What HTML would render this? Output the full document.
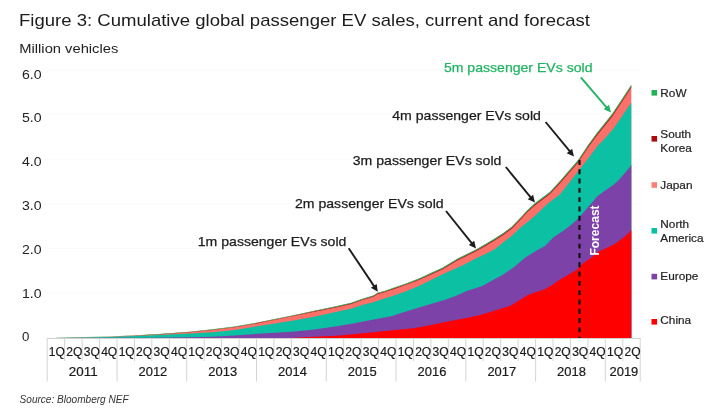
<!DOCTYPE html><html><head><meta charset="utf-8"><title>Figure 3</title><style>html,body{margin:0;padding:0;background:#fff}body{width:720px;height:414px;overflow:hidden}</style></head><body><svg width="720" height="414" viewBox="0 0 720 414" style="display:block">
<rect width="720" height="414" fill="#fff"/>
<line x1="47" x2="640" y1="293.2" y2="293.2" stroke="#fafafa" stroke-width="1"/>
<line x1="47" x2="640" y1="248.5" y2="248.5" stroke="#fafafa" stroke-width="1"/>
<line x1="47" x2="640" y1="203.8" y2="203.8" stroke="#fafafa" stroke-width="1"/>
<line x1="47" x2="640" y1="159.0" y2="159.0" stroke="#fafafa" stroke-width="1"/>
<line x1="47" x2="640" y1="114.2" y2="114.2" stroke="#fafafa" stroke-width="1"/>
<line x1="47" x2="640" y1="69.5" y2="69.5" stroke="#fafafa" stroke-width="1"/>
<path d="M55.9,338.0 L55.9,338.0 L106.7,336.7 L132.2,335.6 L154.4,334.5 L190.0,331.8 L212.2,329.5 L234.4,326.7 L256.7,322.8 L270.0,320.1 L292.2,315.6 L314.4,310.8 L336.7,306.2 L351.1,302.9 L362.2,298.9 L373.3,295.6 L377.8,292.8 L384.4,291.1 L395.6,287.2 L406.7,283.3 L420.0,278.2 L431.1,273.0 L442.2,268.0 L457.8,258.6 L475.6,249.8 L486.7,243.5 L495.0,238.5 L503.3,233.1 L511.7,226.8 L522.5,215.6 L526.7,210.9 L534.4,203.7 L550.0,192.0 L560.0,181.1 L578.3,160.0 L587.5,146.0 L596.7,133.3 L612.2,113.9 L621.5,100.0 L631.3,85.0 L631.3,338.0 Z" fill="#fb7068"/>
<path d="M55.9,338.0 L55.9,338.0 L110.0,337.0 L154.4,335.2 L190.0,333.5 L212.2,332.2 L234.4,330.0 L270.0,324.2 L292.2,320.7 L314.4,316.8 L336.7,311.8 L351.1,308.7 L362.2,305.0 L373.3,302.3 L384.4,298.4 L395.6,294.9 L406.7,291.0 L420.0,285.5 L431.1,280.1 L442.2,274.6 L453.3,269.6 L464.4,264.6 L475.6,258.4 L486.7,253.5 L495.0,249.0 L503.3,242.3 L511.7,236.0 L520.0,228.0 L530.0,219.9 L535.6,215.2 L546.7,204.4 L560.0,194.2 L578.3,171.0 L587.0,160.0 L597.5,146.0 L604.4,138.9 L613.3,128.8 L621.7,116.7 L631.3,102.5 L631.3,338.0 Z" fill="#0cc0a4"/>
<path d="M55.9,338.0 L55.9,338.0 L150.0,337.8 L190.0,337.2 L212.2,336.7 L234.4,335.6 L270.0,332.9 L292.2,331.8 L314.4,329.6 L336.7,326.2 L350.0,324.0 L392.2,316.0 L400.0,313.3 L411.1,310.1 L422.2,306.6 L433.3,303.3 L444.4,300.0 L455.6,296.1 L466.7,291.1 L482.2,286.0 L492.2,280.6 L503.3,274.4 L514.4,266.7 L525.6,257.2 L536.7,250.6 L545.0,246.0 L553.3,237.5 L564.4,230.0 L572.2,224.0 L578.9,217.8 L594.0,200.3 L596.7,196.7 L604.4,191.1 L613.3,185.0 L617.8,181.1 L626.7,171.1 L631.3,165.0 L631.3,338.0 Z" fill="#7d42a8"/>
<path d="M55.9,338.0 L55.9,338.0 L290.0,338.0 L314.4,336.8 L336.7,335.7 L350.0,334.6 L363.3,333.3 L400.0,329.6 L411.1,328.4 L422.2,326.8 L433.3,324.6 L444.4,322.3 L455.6,320.1 L466.7,317.9 L480.0,315.1 L491.1,311.7 L502.2,308.3 L511.1,305.6 L518.9,300.6 L527.8,295.0 L535.6,292.2 L544.4,289.4 L552.2,285.0 L560.0,279.4 L576.7,270.0 L582.2,264.0 L593.3,256.2 L598.3,251.8 L604.4,249.0 L615.6,243.4 L626.7,235.1 L631.3,230.1 L631.3,338.0 Z" fill="#ff0000"/>
<path d="M55.90,338.05 L106.70,336.77 L132.20,335.70 L154.40,334.62 L190.00,331.97 L212.20,329.70 L234.40,326.94 L256.70,323.08 L270.00,320.40 L292.20,315.94 L314.40,311.18 L336.70,306.63 L351.10,303.36 L362.20,299.38 L373.30,296.11 L377.80,293.32 L384.40,291.63 L395.60,287.76 L406.70,283.88 L420.00,278.81 L431.10,273.64 L442.20,268.66 L457.80,259.30 L475.60,250.55 L486.70,244.27 L495.00,239.30 L503.30,233.92 L511.70,227.64 L522.50,216.47 L526.70,211.78 L534.40,204.60 L550.00,192.94 L560.00,182.07 L578.30,161.02 L587.50,147.04 L596.70,134.37 L612.20,115.02 L621.50,101.14 L631.30,86.17 L631.30,87.60 L621.50,102.54 L612.20,116.38 L596.70,135.68 L587.50,148.32 L578.30,162.26 L560.00,183.25 L550.00,194.09 L534.40,205.70 L526.70,212.85 L522.50,217.53 L511.70,228.66 L503.30,234.92 L495.00,240.27 L486.70,245.22 L475.60,251.46 L457.80,260.16 L442.20,269.48 L431.10,274.42 L420.00,279.56 L406.70,284.59 L395.60,288.43 L384.40,292.28 L377.80,293.95 L373.30,296.72 L362.20,299.97 L351.10,303.92 L336.70,307.15 L314.40,311.65 L292.20,316.36 L270.00,320.77 L256.70,323.42 L234.40,327.23 L212.20,329.95 L190.00,332.18 L154.40,334.78 L132.20,335.82 L106.70,336.87 L55.90,338.10 Z" fill="#9a1010"/>
<path d="M55.90,337.85 L106.70,336.55 L132.20,335.45 L154.40,334.35 L190.00,331.65 L212.20,329.35 L234.40,326.55 L256.70,322.65 L270.00,319.95 L292.20,315.45 L314.40,310.65 L336.70,306.05 L351.10,302.75 L362.20,298.75 L373.30,295.45 L377.80,292.65 L384.40,290.95 L395.60,287.05 L406.70,283.15 L420.00,278.05 L431.10,272.85 L442.20,267.85 L457.80,258.45 L475.60,249.65 L486.70,243.35 L495.00,238.35 L503.30,232.95 L511.70,226.65 L522.50,215.45 L526.70,210.75 L534.40,203.55 L550.00,191.85 L560.00,180.95 L578.30,159.85 L587.50,145.85 L596.70,133.15 L612.20,113.75 L621.50,99.85 L631.30,84.85 L631.30,86.30 L621.50,101.27 L612.20,115.14 L596.70,134.49 L587.50,147.16 L578.30,161.13 L560.00,182.18 L550.00,193.05 L534.40,204.70 L526.70,211.88 L522.50,216.56 L511.70,227.73 L503.30,234.01 L495.00,239.38 L486.70,244.36 L475.60,250.63 L457.80,259.38 L442.20,268.74 L431.10,273.71 L420.00,278.88 L406.70,283.95 L395.60,287.82 L384.40,291.69 L377.80,293.37 L373.30,296.16 L362.20,299.44 L351.10,303.41 L336.70,306.68 L314.40,311.23 L292.20,315.98 L270.00,320.43 L256.70,323.11 L234.40,326.97 L212.20,329.73 L190.00,331.99 L154.40,334.64 L132.20,335.71 L106.70,336.78 L55.90,338.05 Z" fill="#27b45f"/>
<line x1="47" x2="640.5" y1="338.5" y2="338.5" stroke="#d0d0d0" stroke-width="1"/>
<line x1="47.2" x2="47.2" y1="338.0" y2="381.5" stroke="#d4d4d4" stroke-width="1"/>
<line x1="64.6" x2="64.6" y1="338.0" y2="361" stroke="#d4d4d4" stroke-width="1"/>
<line x1="82.1" x2="82.1" y1="338.0" y2="361" stroke="#d4d4d4" stroke-width="1"/>
<line x1="99.5" x2="99.5" y1="338.0" y2="361" stroke="#d4d4d4" stroke-width="1"/>
<line x1="117.0" x2="117.0" y1="338.0" y2="381.5" stroke="#d4d4d4" stroke-width="1"/>
<line x1="134.4" x2="134.4" y1="338.0" y2="361" stroke="#d4d4d4" stroke-width="1"/>
<line x1="151.8" x2="151.8" y1="338.0" y2="361" stroke="#d4d4d4" stroke-width="1"/>
<line x1="169.3" x2="169.3" y1="338.0" y2="361" stroke="#d4d4d4" stroke-width="1"/>
<line x1="186.7" x2="186.7" y1="338.0" y2="381.5" stroke="#d4d4d4" stroke-width="1"/>
<line x1="204.2" x2="204.2" y1="338.0" y2="361" stroke="#d4d4d4" stroke-width="1"/>
<line x1="221.6" x2="221.6" y1="338.0" y2="361" stroke="#d4d4d4" stroke-width="1"/>
<line x1="239.1" x2="239.1" y1="338.0" y2="361" stroke="#d4d4d4" stroke-width="1"/>
<line x1="256.5" x2="256.5" y1="338.0" y2="381.5" stroke="#d4d4d4" stroke-width="1"/>
<line x1="273.9" x2="273.9" y1="338.0" y2="361" stroke="#d4d4d4" stroke-width="1"/>
<line x1="291.4" x2="291.4" y1="338.0" y2="361" stroke="#d4d4d4" stroke-width="1"/>
<line x1="308.8" x2="308.8" y1="338.0" y2="361" stroke="#d4d4d4" stroke-width="1"/>
<line x1="326.3" x2="326.3" y1="338.0" y2="381.5" stroke="#d4d4d4" stroke-width="1"/>
<line x1="343.7" x2="343.7" y1="338.0" y2="361" stroke="#d4d4d4" stroke-width="1"/>
<line x1="361.1" x2="361.1" y1="338.0" y2="361" stroke="#d4d4d4" stroke-width="1"/>
<line x1="378.6" x2="378.6" y1="338.0" y2="361" stroke="#d4d4d4" stroke-width="1"/>
<line x1="396.0" x2="396.0" y1="338.0" y2="381.5" stroke="#d4d4d4" stroke-width="1"/>
<line x1="413.5" x2="413.5" y1="338.0" y2="361" stroke="#d4d4d4" stroke-width="1"/>
<line x1="430.9" x2="430.9" y1="338.0" y2="361" stroke="#d4d4d4" stroke-width="1"/>
<line x1="448.3" x2="448.3" y1="338.0" y2="361" stroke="#d4d4d4" stroke-width="1"/>
<line x1="465.8" x2="465.8" y1="338.0" y2="381.5" stroke="#d4d4d4" stroke-width="1"/>
<line x1="483.2" x2="483.2" y1="338.0" y2="361" stroke="#d4d4d4" stroke-width="1"/>
<line x1="500.7" x2="500.7" y1="338.0" y2="361" stroke="#d4d4d4" stroke-width="1"/>
<line x1="518.1" x2="518.1" y1="338.0" y2="361" stroke="#d4d4d4" stroke-width="1"/>
<line x1="535.6" x2="535.6" y1="338.0" y2="381.5" stroke="#d4d4d4" stroke-width="1"/>
<line x1="553.0" x2="553.0" y1="338.0" y2="361" stroke="#d4d4d4" stroke-width="1"/>
<line x1="570.4" x2="570.4" y1="338.0" y2="361" stroke="#d4d4d4" stroke-width="1"/>
<line x1="587.9" x2="587.9" y1="338.0" y2="361" stroke="#d4d4d4" stroke-width="1"/>
<line x1="605.3" x2="605.3" y1="338.0" y2="381.5" stroke="#d4d4d4" stroke-width="1"/>
<line x1="622.8" x2="622.8" y1="338.0" y2="361" stroke="#d4d4d4" stroke-width="1"/>
<line x1="640.2" x2="640.2" y1="338.0" y2="381.5" stroke="#d4d4d4" stroke-width="1"/>
<line x1="579.5" x2="579.5" y1="160" y2="338.0" stroke="#111" stroke-width="2.2" stroke-dasharray="4.9,4.4"/>
<text x="19" y="26.4" font-family="Liberation Sans, Arial, sans-serif" font-size="17" fill="#1c1c1c" textLength="571" lengthAdjust="spacingAndGlyphs">Figure 3: Cumulative global passenger EV sales, current and forecast</text>
<text x="19.3" y="53.2" font-family="Liberation Sans, Arial, sans-serif" font-size="13.3" fill="#222" textLength="99" lengthAdjust="spacingAndGlyphs">Million vehicles</text>
<text x="22" y="78.7" font-family="Liberation Sans, Arial, sans-serif" font-size="12" fill="#222" textLength="19.6" lengthAdjust="spacingAndGlyphs">6.0</text>
<text x="22" y="122.4" font-family="Liberation Sans, Arial, sans-serif" font-size="12" fill="#222" textLength="19.6" lengthAdjust="spacingAndGlyphs">5.0</text>
<text x="22" y="166.1" font-family="Liberation Sans, Arial, sans-serif" font-size="12" fill="#222" textLength="19.6" lengthAdjust="spacingAndGlyphs">4.0</text>
<text x="22" y="209.8" font-family="Liberation Sans, Arial, sans-serif" font-size="12" fill="#222" textLength="19.6" lengthAdjust="spacingAndGlyphs">3.0</text>
<text x="22" y="253.6" font-family="Liberation Sans, Arial, sans-serif" font-size="12" fill="#222" textLength="19.6" lengthAdjust="spacingAndGlyphs">2.0</text>
<text x="22" y="297.6" font-family="Liberation Sans, Arial, sans-serif" font-size="12" fill="#222" textLength="19.6" lengthAdjust="spacingAndGlyphs">1.0</text>
<text x="22" y="340.8" font-family="Liberation Sans, Arial, sans-serif" font-size="12" fill="#222" textLength="7.4" lengthAdjust="spacingAndGlyphs">0</text>
<text x="56.9" y="356.2" font-family="Liberation Sans, Arial, sans-serif" font-size="12" fill="#1a1a1a" stroke="#1a1a1a" stroke-width="0.2" text-anchor="middle" textLength="16.1" lengthAdjust="spacingAndGlyphs">1Q</text>
<text x="74.4" y="356.2" font-family="Liberation Sans, Arial, sans-serif" font-size="12" fill="#1a1a1a" stroke="#1a1a1a" stroke-width="0.2" text-anchor="middle" textLength="16.1" lengthAdjust="spacingAndGlyphs">2Q</text>
<text x="91.8" y="356.2" font-family="Liberation Sans, Arial, sans-serif" font-size="12" fill="#1a1a1a" stroke="#1a1a1a" stroke-width="0.2" text-anchor="middle" textLength="16.1" lengthAdjust="spacingAndGlyphs">3Q</text>
<text x="109.2" y="356.2" font-family="Liberation Sans, Arial, sans-serif" font-size="12" fill="#1a1a1a" stroke="#1a1a1a" stroke-width="0.2" text-anchor="middle" textLength="16.1" lengthAdjust="spacingAndGlyphs">4Q</text>
<text x="126.7" y="356.2" font-family="Liberation Sans, Arial, sans-serif" font-size="12" fill="#1a1a1a" stroke="#1a1a1a" stroke-width="0.2" text-anchor="middle" textLength="16.1" lengthAdjust="spacingAndGlyphs">1Q</text>
<text x="144.1" y="356.2" font-family="Liberation Sans, Arial, sans-serif" font-size="12" fill="#1a1a1a" stroke="#1a1a1a" stroke-width="0.2" text-anchor="middle" textLength="16.1" lengthAdjust="spacingAndGlyphs">2Q</text>
<text x="161.6" y="356.2" font-family="Liberation Sans, Arial, sans-serif" font-size="12" fill="#1a1a1a" stroke="#1a1a1a" stroke-width="0.2" text-anchor="middle" textLength="16.1" lengthAdjust="spacingAndGlyphs">3Q</text>
<text x="179.0" y="356.2" font-family="Liberation Sans, Arial, sans-serif" font-size="12" fill="#1a1a1a" stroke="#1a1a1a" stroke-width="0.2" text-anchor="middle" textLength="16.1" lengthAdjust="spacingAndGlyphs">4Q</text>
<text x="196.4" y="356.2" font-family="Liberation Sans, Arial, sans-serif" font-size="12" fill="#1a1a1a" stroke="#1a1a1a" stroke-width="0.2" text-anchor="middle" textLength="16.1" lengthAdjust="spacingAndGlyphs">1Q</text>
<text x="213.9" y="356.2" font-family="Liberation Sans, Arial, sans-serif" font-size="12" fill="#1a1a1a" stroke="#1a1a1a" stroke-width="0.2" text-anchor="middle" textLength="16.1" lengthAdjust="spacingAndGlyphs">2Q</text>
<text x="231.3" y="356.2" font-family="Liberation Sans, Arial, sans-serif" font-size="12" fill="#1a1a1a" stroke="#1a1a1a" stroke-width="0.2" text-anchor="middle" textLength="16.1" lengthAdjust="spacingAndGlyphs">3Q</text>
<text x="248.8" y="356.2" font-family="Liberation Sans, Arial, sans-serif" font-size="12" fill="#1a1a1a" stroke="#1a1a1a" stroke-width="0.2" text-anchor="middle" textLength="16.1" lengthAdjust="spacingAndGlyphs">4Q</text>
<text x="266.2" y="356.2" font-family="Liberation Sans, Arial, sans-serif" font-size="12" fill="#1a1a1a" stroke="#1a1a1a" stroke-width="0.2" text-anchor="middle" textLength="16.1" lengthAdjust="spacingAndGlyphs">1Q</text>
<text x="283.7" y="356.2" font-family="Liberation Sans, Arial, sans-serif" font-size="12" fill="#1a1a1a" stroke="#1a1a1a" stroke-width="0.2" text-anchor="middle" textLength="16.1" lengthAdjust="spacingAndGlyphs">2Q</text>
<text x="301.1" y="356.2" font-family="Liberation Sans, Arial, sans-serif" font-size="12" fill="#1a1a1a" stroke="#1a1a1a" stroke-width="0.2" text-anchor="middle" textLength="16.1" lengthAdjust="spacingAndGlyphs">3Q</text>
<text x="318.5" y="356.2" font-family="Liberation Sans, Arial, sans-serif" font-size="12" fill="#1a1a1a" stroke="#1a1a1a" stroke-width="0.2" text-anchor="middle" textLength="16.1" lengthAdjust="spacingAndGlyphs">4Q</text>
<text x="336.0" y="356.2" font-family="Liberation Sans, Arial, sans-serif" font-size="12" fill="#1a1a1a" stroke="#1a1a1a" stroke-width="0.2" text-anchor="middle" textLength="16.1" lengthAdjust="spacingAndGlyphs">1Q</text>
<text x="353.4" y="356.2" font-family="Liberation Sans, Arial, sans-serif" font-size="12" fill="#1a1a1a" stroke="#1a1a1a" stroke-width="0.2" text-anchor="middle" textLength="16.1" lengthAdjust="spacingAndGlyphs">2Q</text>
<text x="370.9" y="356.2" font-family="Liberation Sans, Arial, sans-serif" font-size="12" fill="#1a1a1a" stroke="#1a1a1a" stroke-width="0.2" text-anchor="middle" textLength="16.1" lengthAdjust="spacingAndGlyphs">3Q</text>
<text x="388.3" y="356.2" font-family="Liberation Sans, Arial, sans-serif" font-size="12" fill="#1a1a1a" stroke="#1a1a1a" stroke-width="0.2" text-anchor="middle" textLength="16.1" lengthAdjust="spacingAndGlyphs">4Q</text>
<text x="405.7" y="356.2" font-family="Liberation Sans, Arial, sans-serif" font-size="12" fill="#1a1a1a" stroke="#1a1a1a" stroke-width="0.2" text-anchor="middle" textLength="16.1" lengthAdjust="spacingAndGlyphs">1Q</text>
<text x="423.2" y="356.2" font-family="Liberation Sans, Arial, sans-serif" font-size="12" fill="#1a1a1a" stroke="#1a1a1a" stroke-width="0.2" text-anchor="middle" textLength="16.1" lengthAdjust="spacingAndGlyphs">2Q</text>
<text x="440.6" y="356.2" font-family="Liberation Sans, Arial, sans-serif" font-size="12" fill="#1a1a1a" stroke="#1a1a1a" stroke-width="0.2" text-anchor="middle" textLength="16.1" lengthAdjust="spacingAndGlyphs">3Q</text>
<text x="458.1" y="356.2" font-family="Liberation Sans, Arial, sans-serif" font-size="12" fill="#1a1a1a" stroke="#1a1a1a" stroke-width="0.2" text-anchor="middle" textLength="16.1" lengthAdjust="spacingAndGlyphs">4Q</text>
<text x="475.5" y="356.2" font-family="Liberation Sans, Arial, sans-serif" font-size="12" fill="#1a1a1a" stroke="#1a1a1a" stroke-width="0.2" text-anchor="middle" textLength="16.1" lengthAdjust="spacingAndGlyphs">1Q</text>
<text x="492.9" y="356.2" font-family="Liberation Sans, Arial, sans-serif" font-size="12" fill="#1a1a1a" stroke="#1a1a1a" stroke-width="0.2" text-anchor="middle" textLength="16.1" lengthAdjust="spacingAndGlyphs">2Q</text>
<text x="510.4" y="356.2" font-family="Liberation Sans, Arial, sans-serif" font-size="12" fill="#1a1a1a" stroke="#1a1a1a" stroke-width="0.2" text-anchor="middle" textLength="16.1" lengthAdjust="spacingAndGlyphs">3Q</text>
<text x="527.8" y="356.2" font-family="Liberation Sans, Arial, sans-serif" font-size="12" fill="#1a1a1a" stroke="#1a1a1a" stroke-width="0.2" text-anchor="middle" textLength="16.1" lengthAdjust="spacingAndGlyphs">4Q</text>
<text x="545.3" y="356.2" font-family="Liberation Sans, Arial, sans-serif" font-size="12" fill="#1a1a1a" stroke="#1a1a1a" stroke-width="0.2" text-anchor="middle" textLength="16.1" lengthAdjust="spacingAndGlyphs">1Q</text>
<text x="562.7" y="356.2" font-family="Liberation Sans, Arial, sans-serif" font-size="12" fill="#1a1a1a" stroke="#1a1a1a" stroke-width="0.2" text-anchor="middle" textLength="16.1" lengthAdjust="spacingAndGlyphs">2Q</text>
<text x="580.2" y="356.2" font-family="Liberation Sans, Arial, sans-serif" font-size="12" fill="#1a1a1a" stroke="#1a1a1a" stroke-width="0.2" text-anchor="middle" textLength="16.1" lengthAdjust="spacingAndGlyphs">3Q</text>
<text x="597.6" y="356.2" font-family="Liberation Sans, Arial, sans-serif" font-size="12" fill="#1a1a1a" stroke="#1a1a1a" stroke-width="0.2" text-anchor="middle" textLength="16.1" lengthAdjust="spacingAndGlyphs">4Q</text>
<text x="615.0" y="356.2" font-family="Liberation Sans, Arial, sans-serif" font-size="12" fill="#1a1a1a" stroke="#1a1a1a" stroke-width="0.2" text-anchor="middle" textLength="16.1" lengthAdjust="spacingAndGlyphs">1Q</text>
<text x="632.5" y="356.2" font-family="Liberation Sans, Arial, sans-serif" font-size="12" fill="#1a1a1a" stroke="#1a1a1a" stroke-width="0.2" text-anchor="middle" textLength="16.1" lengthAdjust="spacingAndGlyphs">2Q</text>
<text x="83.2" y="375.8" font-family="Liberation Sans, Arial, sans-serif" font-size="12.4" fill="#1a1a1a" stroke="#1a1a1a" stroke-width="0.2" text-anchor="middle" textLength="28.8" lengthAdjust="spacingAndGlyphs">2011</text>
<text x="152.9" y="375.8" font-family="Liberation Sans, Arial, sans-serif" font-size="12.4" fill="#1a1a1a" stroke="#1a1a1a" stroke-width="0.2" text-anchor="middle" textLength="28.8" lengthAdjust="spacingAndGlyphs">2012</text>
<text x="222.7" y="375.8" font-family="Liberation Sans, Arial, sans-serif" font-size="12.4" fill="#1a1a1a" stroke="#1a1a1a" stroke-width="0.2" text-anchor="middle" textLength="28.8" lengthAdjust="spacingAndGlyphs">2013</text>
<text x="292.5" y="375.8" font-family="Liberation Sans, Arial, sans-serif" font-size="12.4" fill="#1a1a1a" stroke="#1a1a1a" stroke-width="0.2" text-anchor="middle" textLength="28.8" lengthAdjust="spacingAndGlyphs">2014</text>
<text x="362.2" y="375.8" font-family="Liberation Sans, Arial, sans-serif" font-size="12.4" fill="#1a1a1a" stroke="#1a1a1a" stroke-width="0.2" text-anchor="middle" textLength="28.8" lengthAdjust="spacingAndGlyphs">2015</text>
<text x="432.0" y="375.8" font-family="Liberation Sans, Arial, sans-serif" font-size="12.4" fill="#1a1a1a" stroke="#1a1a1a" stroke-width="0.2" text-anchor="middle" textLength="28.8" lengthAdjust="spacingAndGlyphs">2016</text>
<text x="501.8" y="375.8" font-family="Liberation Sans, Arial, sans-serif" font-size="12.4" fill="#1a1a1a" stroke="#1a1a1a" stroke-width="0.2" text-anchor="middle" textLength="28.8" lengthAdjust="spacingAndGlyphs">2017</text>
<text x="571.5" y="375.8" font-family="Liberation Sans, Arial, sans-serif" font-size="12.4" fill="#1a1a1a" stroke="#1a1a1a" stroke-width="0.2" text-anchor="middle" textLength="28.8" lengthAdjust="spacingAndGlyphs">2018</text>
<text x="623.9" y="375.8" font-family="Liberation Sans, Arial, sans-serif" font-size="12.4" fill="#1a1a1a" stroke="#1a1a1a" stroke-width="0.2" text-anchor="middle" textLength="28.8" lengthAdjust="spacingAndGlyphs">2019</text>
<text x="19.6" y="403" font-family="Liberation Sans, Arial, sans-serif" font-size="10" font-style="italic" fill="#333" textLength="109" lengthAdjust="spacingAndGlyphs">Source: Bloomberg NEF</text>
<text x="197.8" y="245.8" font-family="Liberation Sans, Arial, sans-serif" font-size="13" fill="#1c1c1c" stroke="#1c1c1c" stroke-width="0.25" textLength="148.6" lengthAdjust="spacingAndGlyphs">1m passenger EVs sold</text>
<line x1="348.7" y1="248.3" x2="374.4" y2="286.6" stroke="#1c1c1c" stroke-width="1.9"/>
<polygon points="377.8,291.8 370.9,287.8 376.7,283.9" fill="#1c1c1c"/>
<text x="295" y="208.2" font-family="Liberation Sans, Arial, sans-serif" font-size="13" fill="#1c1c1c" stroke="#1c1c1c" stroke-width="0.25" textLength="148.6" lengthAdjust="spacingAndGlyphs">2m passenger EVs sold</text>
<line x1="446" y1="211" x2="472.1" y2="243.7" stroke="#1c1c1c" stroke-width="1.9"/>
<polygon points="476.0,248.5 468.8,245.1 474.2,240.7" fill="#1c1c1c"/>
<text x="352.8" y="165" font-family="Liberation Sans, Arial, sans-serif" font-size="13" fill="#1c1c1c" stroke="#1c1c1c" stroke-width="0.25" textLength="148.6" lengthAdjust="spacingAndGlyphs">3m passenger EVs sold</text>
<line x1="505.8" y1="167" x2="531.1" y2="197.8" stroke="#1c1c1c" stroke-width="1.9"/>
<polygon points="535.0,202.6 527.7,199.3 533.1,194.8" fill="#1c1c1c"/>
<text x="392.3" y="119.5" font-family="Liberation Sans, Arial, sans-serif" font-size="13" fill="#1c1c1c" stroke="#1c1c1c" stroke-width="0.25" textLength="148.6" lengthAdjust="spacingAndGlyphs">4m passenger EVs sold</text>
<line x1="545.6" y1="122" x2="570.1" y2="151.7" stroke="#1c1c1c" stroke-width="1.9"/>
<polygon points="574.0,156.5 566.7,153.2 572.1,148.7" fill="#1c1c1c"/>
<text x="443.9" y="71.6" font-family="Liberation Sans, Arial, sans-serif" font-size="13" fill="#22b463" stroke="#22b463" stroke-width="0.25" textLength="148.6" lengthAdjust="spacingAndGlyphs">5m passenger EVs sold</text>
<line x1="580.8" y1="77.4" x2="607.0" y2="107.8" stroke="#22b463" stroke-width="1.9"/>
<polygon points="611.0,112.5 603.7,109.3 609.0,104.8" fill="#22b463"/>
<text transform="translate(598.9,255.6) rotate(-90)" font-family="Liberation Sans, Arial, sans-serif" font-size="12.6" font-weight="bold" fill="#fff" textLength="50.2" lengthAdjust="spacingAndGlyphs">Forecast</text>
<rect x="651.5" y="90" width="5.6" height="5.6" fill="#1fb457"/>
<text x="660.3" y="97" font-family="Liberation Sans, Arial, sans-serif" font-size="11.8" fill="#222" stroke="#222" stroke-width="0.2">RoW</text>
<rect x="651.5" y="136" width="5.6" height="5.6" fill="#a80c0c"/>
<text x="660.3" y="137.6" font-family="Liberation Sans, Arial, sans-serif" font-size="11.8" fill="#222" stroke="#222" stroke-width="0.2">South</text>
<text x="660.3" y="152.2" font-family="Liberation Sans, Arial, sans-serif" font-size="11.8" fill="#222" stroke="#222" stroke-width="0.2">Korea</text>
<rect x="651.5" y="182.2" width="5.6" height="5.6" fill="#fa8076"/>
<text x="660.3" y="188.6" font-family="Liberation Sans, Arial, sans-serif" font-size="11.8" fill="#222" stroke="#222" stroke-width="0.2">Japan</text>
<rect x="651.5" y="228" width="5.6" height="5.6" fill="#0cc0a4"/>
<text x="660.3" y="228" font-family="Liberation Sans, Arial, sans-serif" font-size="11.8" fill="#222" stroke="#222" stroke-width="0.2">North</text>
<text x="660.3" y="241.6" font-family="Liberation Sans, Arial, sans-serif" font-size="11.8" fill="#222" stroke="#222" stroke-width="0.2">America</text>
<rect x="651.5" y="273.8" width="5.6" height="5.6" fill="#7d42a8"/>
<text x="660.3" y="280.4" font-family="Liberation Sans, Arial, sans-serif" font-size="11.8" fill="#222" stroke="#222" stroke-width="0.2">Europe</text>
<rect x="651.5" y="319" width="5.6" height="5.6" fill="#ff0000"/>
<text x="660.3" y="324.4" font-family="Liberation Sans, Arial, sans-serif" font-size="11.8" fill="#222" stroke="#222" stroke-width="0.2">China</text>
</svg></body></html>
